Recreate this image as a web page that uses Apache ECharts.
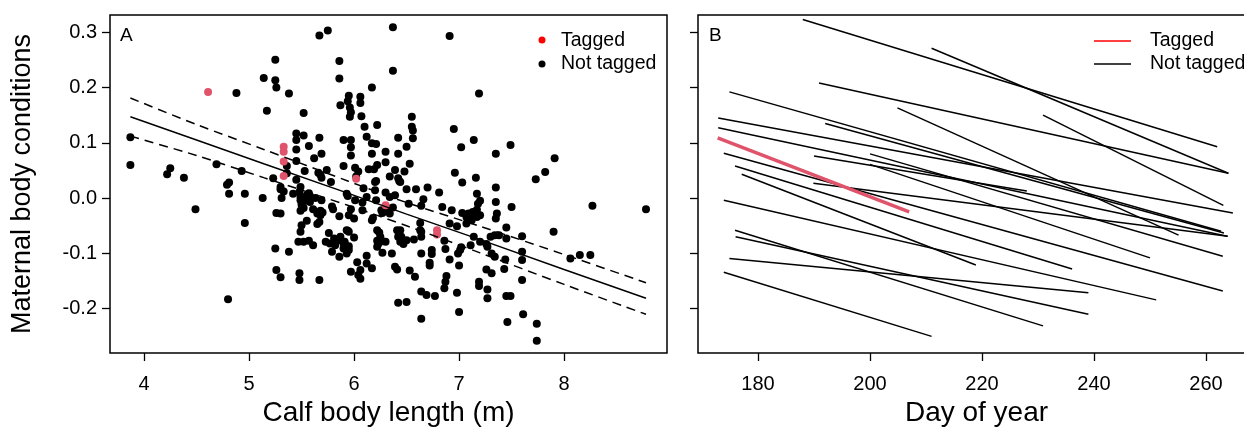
<!DOCTYPE html>
<html>
<head>
<meta charset="utf-8">
<script src="https://cdn.jsdelivr.net/npm/echarts@6/dist/echarts.min.js"></script>
<style>
html,body{margin:0;padding:0;background:#fff;}
#chart{width:1244px;height:431px;}
</style>
</head>
<body>
<div id="chart"></div>
<script>
// ---------- Panel A data ----------
const notTaggedLength = [3.87,3.87,4.88,5.14,5.25,5.25,5.26,5.38,5.17,5.52,5.67,5.75,5.86,5.86,6.37,6.37,6.17,5.95,5.94,5.96,5.97,5.96,6.06,6.06,5.87,6.07,6.10,6.22,6.12,6.42,6.17,6.21,6.17,6.30,6.30,6.42,5.90,5.97,5.97,5.97,5.67,5.45,5.52,5.45,5.45,5.57,5.69,5.62,5.36,5.36,5.45,5.53,5.66,5.69,5.74,5.78,5.90,6.01,6.04,6.02,6.14,6.19,6.22,6.21,6.34,6.39,4.69,4.93,4.25,4.22,4.38,4.79,4.81,5.23,5.45,5.49,5.30,4.49,4.81,4.96,4.96,5.13,4.80,5.30,5.33,5.31,5.42,5.49,5.55,5.57,5.26,5.30,5.49,5.54,5.50,5.52,5.49,5.61,5.68,5.65,5.70,5.67,5.65,5.55,5.50,5.49,5.80,5.79,5.86,5.94,6.01,5.97,6.00,6.08,6.17,6.18,6.12,6.21,6.26,6.27,6.34,6.39,6.37,6.34,5.47,5.52,5.57,5.61,5.76,5.81,5.77,5.87,5.91,5.95,6.00,5.90,5.95,5.79,5.73,5.25,5.38,5.26,5.30,5.48,5.48,5.67,5.86,5.97,6.03,6.06,6.06,6.12,6.17,6.12,6.22,6.24,6.22,6.27,6.22,6.27,6.36,6.39,6.41,6.42,6.41,6.42,6.48,6.43,6.96,7.16,7.03,7.73,7.82,6.50,6.59,6.70,6.81,6.66,6.64,6.52,6.84,6.93,7.03,7.09,7.13,7.17,7.18,7.17,7.20,7.35,7.35,7.36,7.35,7.50,7.45,7.45,7.38,7.60,7.60,7.90,8.06,8.15,8.25,8.27,8.78,6.91,6.98,7.07,7.12,7.10,7.17,7.20,7.07,6.63,6.64,6.44,6.30,6.44,6.50,6.57,6.47,6.86,6.87,7.01,7.02,6.99,6.74,6.74,6.64,7.11,7.14,7.20,7.26,7.27,7.31,7.34,7.30,7.34,6.91,7.00,6.72,6.72,6.53,6.58,6.88,6.87,6.86,6.98,6.64,6.69,6.77,6.50,6.64,7.00,7.19,7.19,7.26,7.31,7.27,7.27,7.43,7.45,7.49,7.60,7.61,7.46,7.74,7.74,6.91,7.19,6.55,6.55,6.56,6.56,6.50,6.53,6.95,7.02,7.14,7.35,7.49,7.91,5.68,5.48,5.58,5.58,5.63,5.69,5.68,5.82,5.87,5.90,5.94,6.20,6.09,6.20,6.30,6.42,6.44,6.33,5.93,5.95,5.93,6.08,6.25,6.23,6.45,6.63,6.64,6.04,5.91,5.95,5.93,7.44,7.60];
const notTaggedCondition = [0.110,0.060,0.190,0.217,0.250,0.213,0.200,0.189,0.158,0.154,0.294,0.303,0.248,0.216,0.309,0.230,0.200,0.185,0.175,0.164,0.155,0.147,0.183,0.172,0.168,0.148,0.129,0.132,0.111,0.109,0.099,0.098,0.080,0.084,0.065,0.080,0.105,0.105,0.092,0.077,0.109,0.117,0.113,0.105,0.088,0.094,0.080,0.072,0.058,0.045,0.067,0.049,0.046,0.037,0.051,0.029,0.058,0.055,0.048,0.039,0.052,0.052,0.060,0.031,0.039,0.051,0.061,0.049,0.054,0.043,0.037,0.024,0.028,0.036,0.033,0.020,0.020,-0.020,0.008,0.008,-0.045,0.000,-0.183,0.016,0.012,0.000,0.008,0.002,0.005,0.009,-0.027,-0.028,-0.004,-0.005,-0.012,-0.018,-0.023,-0.020,-0.023,-0.028,-0.026,-0.043,-0.047,-0.041,-0.049,-0.061,-0.020,-0.015,-0.033,0.004,-0.004,-0.020,-0.037,-0.022,-0.040,-0.036,0.002,-0.004,-0.022,-0.027,0.002,0.005,-0.017,-0.028,-0.079,-0.079,-0.077,-0.085,-0.063,-0.073,-0.082,-0.076,-0.079,-0.061,-0.071,-0.091,-0.094,-0.097,-0.079,-0.091,-0.097,-0.130,-0.143,-0.136,-0.148,-0.148,-0.106,-0.133,-0.116,-0.130,-0.146,-0.118,-0.127,-0.104,-0.058,-0.062,-0.077,-0.078,-0.088,-0.099,-0.100,-0.124,-0.129,-0.189,-0.058,-0.070,0.048,0.031,0.046,0.037,0.028,0.034,0.047,0.016,0.016,0.019,0.010,-0.002,-0.014,-0.010,-0.016,-0.022,-0.027,-0.028,-0.025,-0.021,-0.010,0.008,-0.005,0.019,-0.007,-0.028,-0.037,-0.016,-0.053,-0.073,-0.067,-0.069,-0.097,-0.061,-0.109,-0.103,-0.103,-0.014,-0.020,-0.046,-0.051,-0.046,-0.040,-0.033,-0.034,-0.031,-0.034,-0.045,-0.061,-0.058,-0.079,-0.079,-0.076,-0.075,-0.083,-0.077,-0.092,-0.094,-0.089,-0.100,-0.094,-0.101,-0.100,-0.085,-0.070,-0.079,-0.083,-0.088,-0.100,-0.106,-0.070,-0.067,-0.111,-0.122,-0.117,-0.122,-0.131,-0.142,-0.141,-0.151,-0.163,-0.171,-0.169,-0.175,-0.177,-0.188,-0.218,-0.206,-0.151,-0.159,-0.129,-0.136,-0.165,-0.181,-0.128,-0.177,-0.177,-0.148,-0.210,-0.224,-0.227,-0.258,0.293,0.189,0.147,0.129,0.122,0.108,0.093,0.062,0.125,0.092,0.105,0.080,0.096,0.072,0.042,0.011,0.004,-0.007,0.000,-0.004,-0.031,-0.085,-0.070,-0.082,-0.059,0.029,0.018,0.014,0.010,0.036,0.029,-0.019,0.008,-0.031,-0.058,-0.008,-0.070,-0.083,-0.070,-0.058,-0.070,-0.139,-0.082,-0.087,-0.100,-0.111,-0.112];
const taggedLength = [4.61,5.33,5.33,5.33,5.33,6.02,6.30,6.79,6.79];
const taggedCondition = [0.192,0.093,0.084,0.066,0.040,0.035,-0.013,-0.058,-0.066];

// regression fit and confidence band
const fitLength = [3.87,4.5,5.14,5.94,6.5,7.2,8.0,8.78];
const fitCondition = [0.147,0.105,0.062,0.009,-0.029,-0.075,-0.129,-0.181];
const upperCondition = [0.181,0.133,0.088,0.031,-0.008,-0.051,-0.102,-0.153];
const lowerCondition = [0.112,0.077,0.037,-0.013,-0.050,-0.099,-0.156,-0.210];

// ---------- Panel B data (one straight segment per whale) ----------
const startDay  = [188.0,211.0,190.9,174.9,204.9,230.9,172.9,192.0,172.9,189.9,173.9,200.0,200.0,175.9,177.1,190.0,173.9,175.9,176.0,174.9,173.9];
const endDay    = [262.0,264.0,264.0,262.7,255.1,263.1,264.8,263.2,263.8,263.9,263.0,263.0,250.0,236.1,218.9,228.0,251.1,230.9,239.0,239.0,211.0];
const startCond = [0.323,0.271,0.208,0.192,0.163,0.150,0.145,0.135,0.127,0.027,0.081,0.080,0.061,0.058,0.043,0.076,-0.004,-0.058,-0.070,-0.109,-0.134];
const endCond   = [0.093,0.045,0.045,-0.060,-0.067,-0.013,-0.027,-0.063,-0.069,-0.069,-0.168,-0.105,-0.108,-0.128,-0.121,0.013,-0.184,-0.231,-0.210,-0.171,-0.250];
const taggedDay  = [172.8,207.0];
const taggedCond = [0.109,-0.025];

const xTicksA = [4,5,6,7,8];
const xTicksB = [180,200,220,240,260];
const yTicks = [-0.2,-0.1,0.0,0.1,0.2,0.3];

// ---------- chart ----------
const FONT = 'Liberation Sans, Arial, sans-serif';
const RED = '#DF536B';
const chart = echarts.init(document.getElementById('chart'), null, {renderer:'canvas'});

const zip = (a,b) => a.map((v,i)=>[v,b[i]]);

function xAxisDef(grid, min, max, ticks, title){
  return {
    type:'value', gridIndex:grid, min:min, max:max,
    axisLine:{show:false, onZero:false},
    axisTick:{show:true, inside:false, length:8, customValues:ticks, lineStyle:{color:'#000', width:1.3}},
    axisLabel:{show:true, customValues:ticks, color:'#000', fontSize:20, fontFamily:FONT, margin:21},
    splitLine:{show:false},
    name:title, nameLocation:'middle', nameGap:43,
    nameTextStyle:{fontSize:28, color:'#000', fontFamily:FONT}
  };
}
function yAxisDef(grid, showLabel, title){
  return {
    type:'value', gridIndex:grid, min:-0.28, max:0.331,
    axisLine:{show:false, onZero:false},
    axisTick:{show:true, inside:false, length:8, customValues:yTicks, lineStyle:{color:'#000', width:1.3}},
    axisLabel:{show:showLabel, customValues:yTicks, color:'#000', fontSize:20, fontFamily:FONT, margin:13,
               formatter:v=>Number(v).toFixed(1)},
    splitLine:{show:false},
    name:title, nameLocation:'middle', nameGap:74, nameRotate:90,
    nameTextStyle:{fontSize:27, color:'#000', fontFamily:FONT}
  };
}

const series = [];
series.push({type:'scatter', name:'Not tagged', xAxisIndex:0, yAxisIndex:0,
  data:zip(notTaggedLength, notTaggedCondition), symbol:'circle', symbolSize:8,
  itemStyle:{color:'#000', opacity:1}, z:2, silent:true});
series.push({type:'scatter', name:'Tagged', xAxisIndex:0, yAxisIndex:0,
  data:zip(taggedLength, taggedCondition), symbol:'circle', symbolSize:8,
  itemStyle:{color:RED, opacity:1}, z:3, silent:true});
series.push({type:'line', xAxisIndex:0, yAxisIndex:0, data:zip(fitLength, fitCondition),
  showSymbol:false, symbol:'none', lineStyle:{color:'#000', width:1.5}, z:4, silent:true});
series.push({type:'line', xAxisIndex:0, yAxisIndex:0, data:zip(fitLength, upperCondition),
  showSymbol:false, symbol:'none', smooth:0.3, lineStyle:{color:'#000', width:1.5, type:[9,6]}, z:4, silent:true});
series.push({type:'line', xAxisIndex:0, yAxisIndex:0, data:zip(fitLength, lowerCondition),
  showSymbol:false, symbol:'none', smooth:0.3, lineStyle:{color:'#000', width:1.5, type:[9,6]}, z:4, silent:true});

startDay.forEach((d,i)=>{
  series.push({type:'line', name:'Not tagged', xAxisIndex:1, yAxisIndex:1,
    data:[[d,startCond[i]],[endDay[i],endCond[i]]],
    showSymbol:false, symbol:'none', lineStyle:{color:'#000', width:1.5}, z:2, silent:true});
});
series.push({type:'line', name:'Tagged', xAxisIndex:1, yAxisIndex:1,
  data:zip(taggedDay, taggedCond), showSymbol:false, symbol:'none',
  lineStyle:{color:RED, width:3.5}, z:3, silent:true});

const txt = (x,y,s,size) => ({type:'text', left:x, top:y, silent:true,
  style:{text:s, fontSize:size, fontFamily:FONT, fill:'#000'}});

chart.setOption({
  animation:false,
  backgroundColor:'#fff',
  grid:[
    {left:110, top:15, width:557, height:338, show:true, borderColor:'#000', borderWidth:1.5, backgroundColor:'rgba(0,0,0,0)', outerBoundsMode:'none', containLabel:false},
    {left:698, top:15, width:557, height:338, show:true, borderColor:'#000', borderWidth:1.5, backgroundColor:'rgba(0,0,0,0)', outerBoundsMode:'none', containLabel:false}
  ],
  xAxis:[
    xAxisDef(0, 3.676, 8.98, xTicksA, 'Calf body length (m)'),
    xAxisDef(1, 169.29, 268.75, xTicksB, 'Day of year')
  ],
  yAxis:[ yAxisDef(0, true, 'Maternal body conditions'), yAxisDef(1, false, '') ],
  series:series,
  graphic:[
    txt(120,26,'A',19),
    txt(709,26,'B',19),
    {type:'circle', shape:{cx:542, cy:40, r:3.5}, style:{fill:'#ff0000'}, silent:true},
    {type:'circle', shape:{cx:542, cy:64, r:3.5}, style:{fill:'#000'}, silent:true},
    txt(561,31,'Tagged',19.5),
    txt(561,54,'Not tagged',19.5),
    {type:'line', shape:{x1:1094, y1:41, x2:1131, y2:41}, style:{stroke:'#ff0000', lineWidth:1.5}, silent:true},
    {type:'line', shape:{x1:1094, y1:64, x2:1131, y2:64}, style:{stroke:'#000', lineWidth:1.5}, silent:true},
    txt(1150,31,'Tagged',19.5),
    txt(1150,54,'Not tagged',19.5)
  ]
});
</script>
</body>
</html>
